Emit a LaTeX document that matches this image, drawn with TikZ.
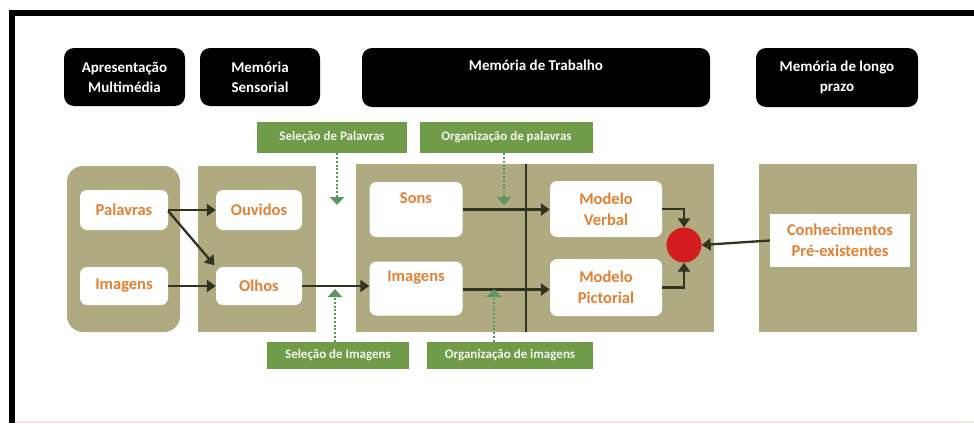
\documentclass[tikz,border=0pt]{standalone}
\usepackage{fontspec}
\setmainfont{Carlito}
\usetikzlibrary{arrows.meta}
\definecolor{olive}{RGB}{176,170,128}
\definecolor{lgreen}{RGB}{112,155,72}
\definecolor{dotgreen}{RGB}{88,150,100}
\definecolor{otext}{RGB}{226,128,52}
\definecolor{dark}{RGB}{48,52,34}
\definecolor{redc}{RGB}{212,28,30}
\begin{document}
\begin{tikzpicture}[x=1pt,y=-1pt,
  hdr/.style={fill=black,rounded corners=10pt,text=white,font=\bfseries\fontsize{15}{20}\selectfont,align=center,inner sep=0pt},
  glabel/.style={fill=lgreen,text=white!92!lgreen,font=\bfseries\fontsize{13}{15}\selectfont,inner sep=0pt},
  panel/.style={fill=olive},
  wbox/.style={fill=white,rounded corners=7pt,text=otext,font=\bfseries\fontsize{16.5}{21}\selectfont,align=center,inner sep=0pt},
  conn/.style={draw=dark,line width=2.3pt,-{Triangle[width=12pt,length=9pt]}},
  dotarr/.style={draw=dotgreen,line width=2.6pt,dash pattern=on 2pt off 1.8pt,-{Triangle[width=14pt,length=8pt,fill=dotgreen!70!lgreen]}}
]
\useasboundingbox (0,0) rectangle (974,423);
\fill[white] (0,0) rectangle (974,423);
% frame
\draw[line width=6pt,miter limit=10] (974,13) -- (12,13) -- (12,423);
\draw[line width=1.5pt,color={rgb,255:red,250;green,230;blue,222}] (16,422) -- (974,422);

% headers
\node[hdr,minimum width=121pt,minimum height=58pt] (h1) at (124.5,77) {Apresentação\\Multimédia};
\node[hdr,minimum width=120pt,minimum height=58pt] (h2) at (260,77) {Memória\\Sensorial};
\node[fill=black,rounded corners=10pt,minimum width=348pt,minimum height=59pt,inner sep=0pt] (h3) at (536,77.5) {};
\node[text=white,font=\bfseries\fontsize{15}{20}\selectfont,inner sep=0pt,anchor=base] (h3t) at (536,70) {Memória de Trabalho};
\node[hdr,minimum width=162pt,minimum height=59pt] (h4) at (837,77.5) {Memória de longo\\prazo};

% green labels
\node[glabel,minimum width=150pt,minimum height=31pt] (selp) at (332,137.5) {Seleção de Palavras};
\node[glabel,minimum width=173pt,minimum height=31pt] (orgp) at (506.5,137.5) {Organização de palavras};
\node[glabel,minimum width=142pt,minimum height=27pt] (seli) at (338,355.5) {Seleção de Imagens};
\node[glabel,minimum width=166pt,minimum height=27pt] (orgi) at (510,355.5) {Organização de imagens};

% panels
\node[panel,rounded corners=16pt,minimum width=113pt,minimum height=166pt,inner sep=0pt] (p1) at (123.5,249) {};
\node[panel,minimum width=118pt,minimum height=166pt,inner sep=0pt] (p2) at (257,249) {};
\node[panel,minimum width=358pt,minimum height=168pt,inner sep=0pt] (p3) at (534.5,248) {};
\node[panel,minimum width=158pt,minimum height=168pt,inner sep=0pt] (p4) at (838,248) {};
\draw[dark,line width=1.3pt] (526,164) -- (526,332);

% white boxes
\node[wbox,minimum width=88pt,minimum height=40pt] (pal) at (124,210) {Palavras};
\node[wbox,minimum width=88pt,minimum height=38pt] (imgl) at (124,286) {Imagens};
\node[wbox,minimum width=86pt,minimum height=40pt] (ouv) at (259,210) {Ouvidos};
\node[wbox,minimum width=86pt,minimum height=38pt] (olh) at (259,286) {Olhos};
\node[wbox,minimum width=93pt,minimum height=55pt] (sons) at (416,209.5) {};
\node[text=otext,font=\bfseries\fontsize{16.5}{21}\selectfont,inner sep=0pt] (sonst) at (416,198) {Sons};
\node[wbox,minimum width=93pt,minimum height=54pt] (imgm) at (416,288.5) {};
\node[text=otext,font=\bfseries\fontsize{16.5}{21}\selectfont,inner sep=0pt] (imgmt) at (416,278) {Imagens};
\node[wbox,minimum width=112pt,minimum height=56pt] (mv) at (606,209) {Modelo\\Verbal};
\node[wbox,minimum width=112pt,minimum height=57pt] (mp) at (606,287.5) {Modelo\\Pictorial};
\node[wbox,rounded corners=0pt,minimum width=140pt,minimum height=53pt] (con) at (840,240.5) {Conhecimentos\\Pré-existentes};
\node[circle,fill=redc,minimum size=35pt,inner sep=0pt] (circ) at (684,245) {};

% connectors
\draw[conn] (pal.east) -- (ouv.west);
\draw[conn,shorten >=2pt] ([yshift=-1pt]pal.east) -- (olh.north west);
\draw[conn] (imgl.east) -- (olh.west);
\draw[conn] (olh.east) -- (olh.east -| imgm.west);
\draw[conn] (sons.east) -- (sons.east -| mv.west);
\draw[conn] ([yshift=-1pt]imgm.east) -- ([yshift=-1pt]imgm.east -| mp.west);
\draw[conn] (mv.east) -| (circ.north);
\draw[conn] (mp.east) -| (circ.south);
\draw[conn] (con.west) -- (circ.east);

% dotted arrows
\coordinate (t1) at (337,205);
\coordinate (t2) at (504,205);
\coordinate (t3) at (335,289);
\coordinate (t4) at (494,289);
\draw[dotarr] (selp.south -| t1) -- (t1);
\draw[dotarr] (orgp.south -| t2) -- (t2);
\draw[dotarr] (seli.north -| t3) -- (t3);
\draw[dotarr] (orgi.north -| t4) -- (t4);
\end{tikzpicture}
\end{document}
